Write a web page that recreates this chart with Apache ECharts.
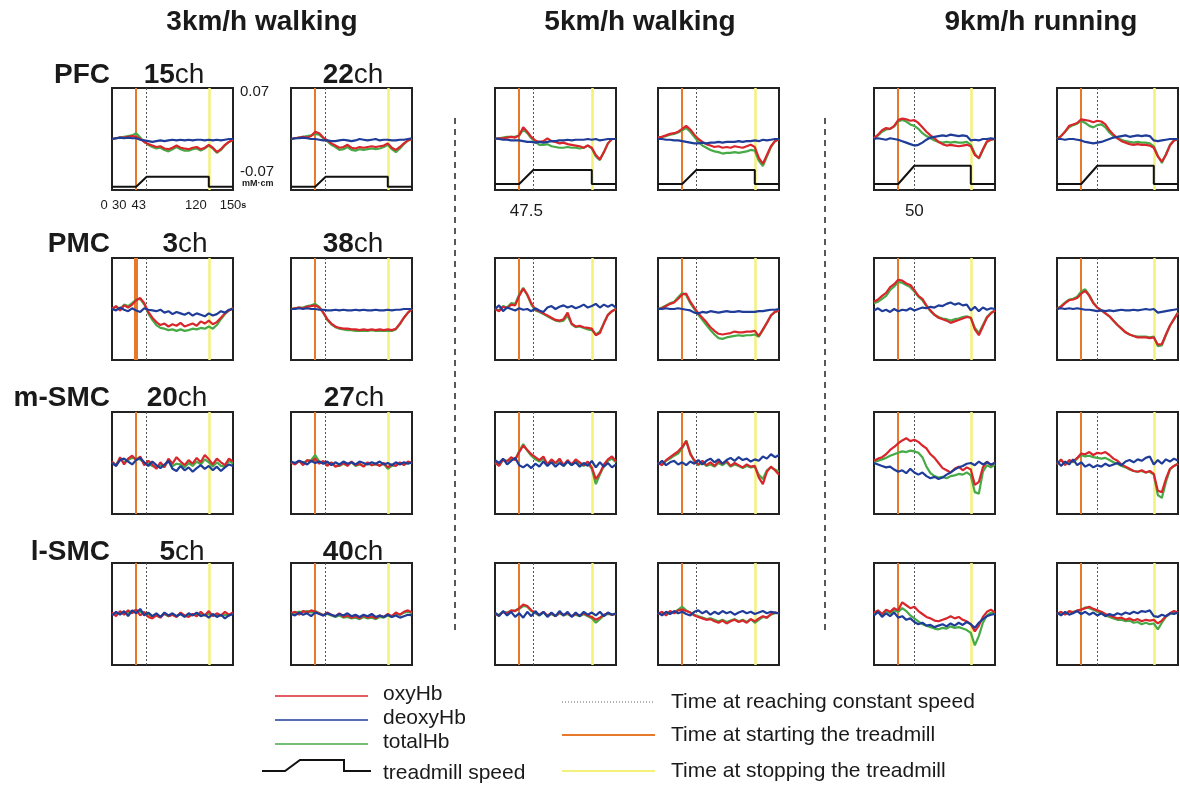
<!DOCTYPE html>
<html><head><meta charset="utf-8">
<script src="https://cdn.jsdelivr.net/npm/echarts@6/dist/echarts.min.js"></script>
<style>html,body{margin:0;padding:0;background:#fff}#c{width:1180px;height:787px}</style>
</head><body><div id="c"></div>
<script>
// ---------------- data ----------------
const timeSec = [0,5,10,15,20,25,30,35,40,45,50,55,60,65,70,75,80,85,90,95,100,105,110,115,120,125,130,135,140,145,150];
const conditions = ['3km/h walking','5km/h walking','9km/h running'];
const regions = ['PFC','PMC','m-SMC','l-SMC'];
const channels = [['15','22'],['3','38'],['20','27'],['5','40']];
const treadmillSpeed = [3,5,9];            // km/h
const startTime = 30;                      // s
const reachTime = [43,47.5,50];            // s
const stopTime = 120;                      // s
const endTime = 150;                       // s
const xTickLabels = [0,30,43,120,150];
const reachTickLabels = [null,[47.5],[50]];
const yTickLabels = [0.07,-0.07];

// PFC
const PFC15_3kmh_oxy   = [0,0.001,0.002,0.002,0.003,0.004,0.003,0,-0.004,-0.007,-0.009,-0.011,-0.010,-0.013,-0.014,-0.012,-0.009,-0.012,-0.013,-0.014,-0.012,-0.011,-0.014,-0.012,-0.008,-0.012,-0.018,-0.014,-0.008,-0.004,-0.001];
const PFC15_3kmh_deoxy = [0,0.001,0.002,0.001,0.002,0.001,0.001,-0.001,-0.002,-0.003,-0.004,-0.003,-0.002,-0.003,-0.002,-0.001,-0.002,-0.001,-0.002,-0.001,-0.002,-0.001,-0.001,-0.002,-0.001,-0.002,-0.001,-0.002,-0.001,0,0];
const PFC15_3kmh_total = [0,0.001,0.002,0.003,0.004,0.005,0.008,0.002,-0.004,-0.008,-0.011,-0.013,-0.012,-0.015,-0.017,-0.014,-0.011,-0.014,-0.016,-0.016,-0.014,-0.013,-0.016,-0.013,-0.009,-0.013,-0.019,-0.015,-0.009,-0.004,-0.001];
const PFC22_3kmh_oxy   = [0,0.001,0.002,0.003,0.002,0.004,0.010,0.008,0.002,-0.002,-0.006,-0.009,-0.012,-0.011,-0.008,-0.012,-0.013,-0.011,-0.012,-0.011,-0.010,-0.011,-0.010,-0.009,-0.006,-0.012,-0.015,-0.011,-0.006,-0.002,0];
const PFC22_3kmh_deoxy = [0,0.001,0.001,0.002,0.001,0,0,-0.001,-0.002,-0.002,-0.003,-0.003,-0.002,-0.001,-0.002,-0.003,-0.002,0,-0.001,-0.002,-0.001,0,-0.002,-0.001,-0.001,-0.002,-0.002,-0.001,-0.001,0,0.001];
const PFC22_3kmh_total = [0,0.001,0.002,0.003,0.004,0.005,0.007,0.006,0.001,-0.003,-0.008,-0.011,-0.015,-0.014,-0.011,-0.015,-0.016,-0.014,-0.015,-0.014,-0.013,-0.014,-0.013,-0.011,-0.008,-0.014,-0.018,-0.013,-0.007,-0.002,0];
const PFC15_5kmh_oxy   = [0,0.001,0.001,0.002,0.003,0.002,0.005,0.016,0.010,0.003,-0.002,-0.004,-0.003,0.001,-0.003,-0.004,-0.006,-0.005,-0.007,-0.008,-0.009,-0.010,-0.012,-0.009,-0.012,-0.022,-0.028,-0.018,-0.006,0,0];
const PFC15_5kmh_deoxy = [0.001,0,-0.001,-0.001,-0.002,-0.002,-0.002,-0.003,-0.004,-0.004,-0.005,-0.004,-0.005,-0.004,-0.003,-0.003,-0.002,-0.002,-0.001,-0.002,-0.001,-0.001,-0.001,0,-0.001,0,-0.002,-0.001,0,0,0];
const PFC15_5kmh_total = [0,0.001,0.002,0.003,0.003,0.003,0.005,0.013,0.008,0.001,-0.004,-0.008,-0.008,-0.007,-0.010,-0.011,-0.012,-0.012,-0.011,-0.012,-0.012,-0.013,-0.012,-0.009,-0.013,-0.024,-0.029,-0.018,-0.006,0,0];
const PFC22_5kmh_oxy   = [0.002,0.003,0.005,0.007,0.008,0.010,0.014,0.018,0.013,0.006,0,-0.004,-0.007,-0.009,-0.011,-0.010,-0.012,-0.011,-0.012,-0.010,-0.011,-0.012,-0.010,-0.008,-0.011,-0.026,-0.034,-0.022,-0.010,-0.003,0];
const PFC22_5kmh_deoxy = [0,0,-0.001,-0.001,-0.002,-0.002,-0.003,-0.004,-0.005,-0.006,-0.006,-0.005,-0.006,-0.005,-0.005,-0.004,-0.005,-0.004,-0.004,-0.004,-0.003,-0.004,-0.003,-0.003,-0.002,-0.003,-0.001,-0.002,-0.001,0,0];
const PFC22_5kmh_total = [0.002,0.003,0.004,0.006,0.007,0.009,0.012,0.015,0.010,0.003,-0.004,-0.009,-0.012,-0.015,-0.017,-0.018,-0.020,-0.019,-0.019,-0.018,-0.019,-0.018,-0.017,-0.015,-0.016,-0.030,-0.037,-0.024,-0.011,-0.003,0];
const PFC15_9kmh_oxy   = [0.001,0.006,0.012,0.015,0.014,0.018,0.026,0.028,0.027,0.025,0.026,0.022,0.016,0.010,0.005,0.001,-0.004,-0.007,-0.009,-0.008,-0.009,-0.010,-0.009,-0.008,-0.010,-0.022,-0.026,-0.014,-0.003,-0.001,0];
const PFC15_9kmh_deoxy = [0,0.001,0,-0.001,0.001,0,-0.001,-0.003,-0.005,-0.007,-0.009,-0.008,-0.005,-0.001,0.002,0.003,0.004,0.005,0.004,0.006,0.005,0.004,0.005,0.004,-0.002,-0.001,-0.002,0,0,0.001,0];
const PFC15_9kmh_total = [0.001,0.005,0.010,0.013,0.014,0.017,0.024,0.026,0.024,0.020,0.018,0.014,0.008,0.004,0.001,-0.002,-0.004,-0.005,-0.004,-0.005,-0.004,-0.005,-0.005,-0.004,-0.008,-0.020,-0.027,-0.015,-0.004,-0.001,0];
const PFC22_9kmh_oxy   = [0,0.004,0.010,0.018,0.020,0.022,0.027,0.026,0.025,0.023,0.025,0.024,0.020,0.012,0.006,0.001,-0.003,-0.005,-0.007,-0.008,-0.007,-0.008,-0.008,-0.009,-0.012,-0.024,-0.031,-0.022,-0.009,-0.002,0];
const PFC22_9kmh_deoxy = [0,0,-0.001,0,0,-0.001,-0.002,-0.004,-0.005,-0.006,-0.005,-0.004,-0.002,0,0.002,0.003,0.004,0.005,0.003,0.004,0.005,0.004,0.005,0.004,-0.002,-0.003,-0.002,-0.001,0,0,0];
const PFC22_9kmh_total = [0,0.004,0.010,0.016,0.019,0.021,0.025,0.022,0.018,0.016,0.019,0.020,0.016,0.009,0.004,0.001,-0.001,-0.003,-0.004,-0.005,-0.004,-0.005,-0.005,-0.006,-0.010,-0.023,-0.033,-0.021,-0.008,-0.002,0];
// PMC
const PMC3_3kmh_oxy    = [0,0.004,-0.002,0.005,0.002,0.006,0.012,0.015,0.008,-0.004,-0.012,-0.018,-0.022,-0.020,-0.024,-0.021,-0.023,-0.019,-0.024,-0.022,-0.020,-0.023,-0.017,-0.020,-0.016,-0.021,-0.018,-0.012,-0.006,-0.002,0.001];
const PMC3_3kmh_deoxy  = [0,-0.002,0.002,-0.001,-0.003,0.001,-0.002,-0.004,0.001,-0.001,-0.002,-0.003,-0.001,-0.005,-0.003,-0.007,-0.004,-0.006,-0.008,-0.005,-0.009,-0.006,-0.008,-0.010,-0.006,-0.009,-0.007,-0.003,-0.005,-0.001,0];
const PMC3_3kmh_total  = [0,0.003,0,0.006,0.004,0.008,0.013,0.014,0.006,-0.006,-0.015,-0.022,-0.026,-0.027,-0.029,-0.028,-0.030,-0.028,-0.030,-0.029,-0.027,-0.028,-0.026,-0.027,-0.024,-0.027,-0.022,-0.014,-0.007,-0.002,0.001];
const PMC38_3kmh_oxy   = [0,0.001,0.002,0.001,0.003,0.004,0.005,0.002,-0.005,-0.014,-0.020,-0.024,-0.026,-0.027,-0.027,-0.028,-0.028,-0.029,-0.028,-0.029,-0.028,-0.029,-0.028,-0.029,-0.028,-0.029,-0.027,-0.020,-0.012,-0.005,0];
const PMC38_3kmh_deoxy = [0,0,0.001,0,0.001,0,0,-0.001,-0.001,-0.002,-0.002,-0.001,-0.002,-0.001,-0.002,-0.002,-0.001,-0.002,-0.001,-0.002,-0.002,-0.001,-0.002,-0.002,-0.001,-0.002,-0.001,-0.001,0,0,0];
const PMC38_3kmh_total = [0,0.001,0.002,0.002,0.004,0.005,0.007,0.003,-0.005,-0.015,-0.021,-0.025,-0.027,-0.028,-0.029,-0.029,-0.030,-0.030,-0.030,-0.030,-0.029,-0.030,-0.030,-0.030,-0.030,-0.030,-0.028,-0.021,-0.012,-0.005,0];
const PMC3_5kmh_oxy    = [0,-0.003,0.003,0.001,0.006,0.005,0.018,0.028,0.020,0.008,-0.001,-0.003,-0.006,-0.009,-0.012,-0.015,-0.016,-0.014,-0.005,-0.020,-0.024,-0.023,-0.025,-0.026,-0.027,-0.036,-0.033,-0.020,-0.008,-0.003,0];
const PMC3_5kmh_deoxy  = [0,0.005,-0.003,0.002,0,-0.002,0.001,-0.001,0,-0.003,0.001,-0.002,-0.004,0.002,0.004,0,0.003,0.005,0.002,0.004,0.001,0.003,0.006,0.002,0.004,0.007,0.002,0.006,0.003,0.006,0.002];
const PMC3_5kmh_total  = [0,-0.002,0.004,0.002,0.008,0.007,0.020,0.029,0.019,0.006,-0.002,-0.004,-0.007,-0.010,-0.013,-0.016,-0.017,-0.016,-0.009,-0.021,-0.025,-0.024,-0.026,-0.028,-0.029,-0.035,-0.031,-0.019,-0.008,-0.003,0];
const PMC38_5kmh_oxy   = [0,0.001,0.004,0.007,0.009,0.014,0.020,0.021,0.010,0.002,-0.006,-0.012,-0.018,-0.025,-0.030,-0.034,-0.035,-0.034,-0.033,-0.031,-0.032,-0.032,-0.031,-0.031,-0.030,-0.037,-0.028,-0.019,-0.009,-0.004,-0.002];
const PMC38_5kmh_deoxy = [0,0,0.001,0,0,0.001,0,-0.001,-0.002,-0.005,-0.006,-0.004,-0.005,-0.003,-0.004,-0.005,-0.004,-0.003,-0.004,-0.004,-0.003,-0.004,-0.004,-0.004,-0.004,-0.003,-0.003,-0.002,-0.001,-0.001,0];
const PMC38_5kmh_total = [0,0.002,0.005,0.008,0.010,0.016,0.022,0.019,0.008,0,-0.008,-0.015,-0.022,-0.029,-0.035,-0.040,-0.041,-0.039,-0.038,-0.037,-0.036,-0.037,-0.036,-0.036,-0.035,-0.038,-0.029,-0.019,-0.009,-0.004,-0.002];
const PMC3_9kmh_oxy    = [0.010,0.013,0.018,0.022,0.030,0.034,0.040,0.039,0.035,0.033,0.026,0.018,0.014,0.005,-0.002,-0.008,-0.012,-0.014,-0.016,-0.019,-0.017,-0.015,-0.013,-0.011,-0.012,-0.028,-0.036,-0.024,-0.012,-0.006,-0.002];
const PMC3_9kmh_deoxy  = [-0.002,0.001,-0.003,-0.001,-0.004,0,-0.003,-0.001,-0.002,0.001,-0.002,0,0.002,0.001,0.003,0.002,0.005,0.004,0.007,0.009,0.006,0.008,0.005,0.006,-0.002,0.003,-0.003,0.002,-0.001,0.001,0];
const PMC3_9kmh_total  = [0.008,0.010,0.014,0.018,0.026,0.031,0.037,0.036,0.033,0.030,0.024,0.017,0.012,0.004,-0.003,-0.008,-0.011,-0.013,-0.014,-0.016,-0.014,-0.013,-0.011,-0.010,-0.012,-0.026,-0.033,-0.022,-0.011,-0.005,-0.002];
const PMC38_9kmh_oxy   = [0,0.003,0.008,0.012,0.013,0.015,0.021,0.025,0.018,0.008,0.002,-0.002,-0.006,-0.010,-0.016,-0.022,-0.027,-0.032,-0.035,-0.037,-0.039,-0.039,-0.039,-0.040,-0.039,-0.049,-0.048,-0.035,-0.023,-0.014,-0.005];
const PMC38_9kmh_deoxy = [0,0.001,0,0.001,0,0.001,0,-0.001,-0.001,-0.002,-0.003,-0.002,-0.003,-0.002,-0.003,-0.002,-0.001,-0.002,-0.002,-0.001,-0.002,-0.001,0,-0.001,0,-0.005,-0.004,-0.003,-0.002,-0.001,0];
const PMC38_9kmh_total = [0,0.004,0.009,0.013,0.014,0.017,0.024,0.027,0.019,0.009,0.002,-0.002,-0.006,-0.010,-0.016,-0.022,-0.027,-0.032,-0.035,-0.037,-0.038,-0.038,-0.038,-0.039,-0.038,-0.051,-0.050,-0.036,-0.023,-0.014,-0.005];
// m-SMC
const mSMC20_3kmh_oxy   = [0.002,-0.004,0.008,-0.002,0.006,0.010,0.004,0.009,-0.003,0.003,-0.002,-0.008,0.001,-0.006,0.006,-0.001,0.008,0.002,-0.003,0.004,-0.001,0.007,0.001,0.011,0.005,-0.002,0.006,0.001,-0.003,0.006,0.002];
const mSMC20_3kmh_deoxy = [0,-0.004,0.004,0.006,0.002,-0.002,0.004,0.007,0.001,-0.004,0.002,-0.003,-0.007,-0.002,0.003,-0.008,-0.011,-0.004,-0.010,-0.006,-0.012,-0.007,-0.003,-0.008,-0.004,-0.010,-0.005,-0.011,-0.006,-0.002,-0.004];
const mSMC20_3kmh_total = [0.001,-0.002,0.005,0.001,0.004,0.007,0.006,0.005,0,-0.001,-0.004,-0.006,-0.003,-0.005,0.003,-0.004,-0.001,-0.002,-0.006,0,-0.004,0.002,-0.002,0.005,0.001,-0.005,0.001,-0.004,-0.005,0.003,-0.001];
const mSMC27_3kmh_oxy   = [0.001,-0.002,0.003,-0.003,0.004,0.002,0.006,-0.001,0.003,-0.004,0.001,-0.005,-0.003,0,-0.004,0.002,-0.003,-0.001,-0.005,0.001,-0.003,-0.001,-0.004,0,-0.006,-0.002,-0.004,0.001,-0.003,0.002,0];
const mSMC27_3kmh_deoxy = [0.002,0,0.003,0.001,-0.002,0.003,0,0.002,-0.001,0.002,-0.003,0.001,-0.002,0.002,-0.001,0.001,-0.002,0.002,0,-0.002,0.001,-0.001,0.002,-0.002,0,-0.003,0.001,-0.002,0.001,-0.001,0.001];
const mSMC27_3kmh_total = [0.001,-0.001,0.002,0,0.003,0.004,0.011,0.002,0.001,-0.002,0,-0.004,-0.004,-0.001,-0.003,0.001,-0.004,-0.002,-0.004,0,-0.003,-0.002,-0.003,-0.001,-0.008,-0.004,-0.003,0,-0.002,0.001,0];
const mSMC20_5kmh_oxy   = [0.001,-0.004,0.005,0.002,0.008,0.004,0.015,0.024,0.018,0.012,0.008,0.004,0.009,-0.002,0.005,0,0.006,-0.003,0.004,-0.002,0.005,0.001,-0.003,0.002,-0.006,-0.022,-0.014,-0.002,0.005,0.009,0.002];
const mSMC20_5kmh_deoxy = [0.004,0,0.006,-0.002,0.003,0.007,-0.003,-0.006,-0.002,-0.007,-0.001,-0.005,0.002,-0.004,0.001,-0.005,0,-0.004,0.002,-0.003,0.001,-0.005,0,-0.004,0.003,-0.006,0.001,-0.005,0,-0.006,-0.002];
const mSMC20_5kmh_total = [0,-0.003,0.004,0.003,0.006,0.005,0.016,0.026,0.017,0.010,0.005,0.002,0.006,-0.003,0.003,-0.001,0.004,-0.004,0.002,-0.003,0.003,-0.001,-0.004,0,-0.008,-0.029,-0.016,-0.004,0.003,0.006,0.001];
const mSMC27_5kmh_oxy   = [0,-0.003,0.004,0.008,0.012,0.016,0.022,0.030,0.012,0.004,-0.002,0.003,-0.003,0.001,-0.004,0.002,-0.001,0.003,-0.004,0,-0.003,-0.006,-0.002,-0.005,-0.004,-0.020,-0.029,-0.012,-0.005,-0.010,-0.016];
const mSMC27_5kmh_deoxy = [-0.002,0.003,-0.003,0.001,0.003,-0.002,0.001,-0.003,0.002,-0.001,0.004,-0.002,0.003,0.006,0.001,0.005,-0.001,0.004,0.007,0.003,0.008,0.004,0.006,0.002,0.005,0.003,0.009,0.006,0.012,0.008,0.011];
const mSMC27_5kmh_total = [0,-0.002,0.003,0.006,0.010,0.013,0.020,0.031,0.014,0.002,-0.003,0.001,-0.004,-0.002,-0.005,0,-0.003,0.001,-0.005,-0.002,-0.004,-0.007,-0.004,-0.006,-0.005,-0.016,-0.022,-0.010,-0.006,-0.009,-0.012];
const mSMC20_9kmh_oxy   = [0.003,0.006,0.008,0.012,0.018,0.022,0.027,0.031,0.034,0.030,0.032,0.029,0.024,0.020,0.012,0.007,0,-0.007,-0.010,-0.013,-0.008,-0.005,-0.010,-0.006,-0.009,-0.030,-0.026,-0.006,0.002,-0.003,0.001];
const mSMC20_9kmh_deoxy = [0,-0.002,-0.004,-0.006,-0.005,-0.009,-0.012,-0.010,-0.014,-0.008,-0.013,-0.016,-0.013,-0.018,-0.021,-0.019,-0.022,-0.020,-0.016,-0.013,-0.009,-0.006,-0.004,-0.001,0,-0.003,0.002,-0.002,0.001,-0.002,0];
const mSMC20_9kmh_total = [0.002,0.003,0.005,0.007,0.010,0.012,0.014,0.016,0.015,0.017,0.016,0.014,0.008,-0.005,-0.014,-0.018,-0.020,-0.019,-0.021,-0.018,-0.017,-0.015,-0.016,-0.013,-0.017,-0.040,-0.042,-0.012,-0.003,-0.006,-0.002];
const mSMC27_9kmh_oxy   = [-0.002,0.005,-0.003,0.004,0.002,0.007,0.013,0.012,0.015,0.011,0.014,0.013,0.015,0.011,0.006,0.003,-0.002,-0.005,-0.008,-0.011,-0.012,-0.010,-0.013,-0.011,-0.015,-0.038,-0.040,-0.022,-0.008,-0.004,-0.001];
const mSMC27_9kmh_deoxy = [0.003,-0.004,0.002,-0.002,0.005,-0.003,0.001,-0.005,-0.002,-0.006,-0.003,-0.005,-0.001,-0.004,-0.002,0,-0.003,0.002,0.004,0.001,0.005,0.003,0.007,0.009,-0.002,0.004,-0.001,0.005,0.002,0.006,0.003];
const mSMC27_9kmh_total = [-0.001,0.004,-0.002,0.003,0.001,0.006,0.011,0.009,0.010,0.008,0.007,0.006,0.007,0.004,0.001,-0.001,-0.004,-0.006,-0.009,-0.011,-0.012,-0.011,-0.013,-0.012,-0.016,-0.044,-0.048,-0.026,-0.009,-0.004,-0.001];
// l-SMC
const lSMC5_3kmh_oxy    = [0.002,-0.003,0.004,-0.001,0.005,0.001,0.006,-0.002,0.003,-0.004,-0.006,-0.002,-0.005,0.001,-0.003,-0.001,-0.004,0.002,-0.002,-0.004,0,-0.003,0.003,-0.002,0.004,-0.003,0.001,-0.002,0.003,-0.001,0.002];
const lSMC5_3kmh_deoxy  = [-0.002,0.003,-0.001,0.004,-0.003,0.005,0.001,0.007,-0.002,0.002,-0.003,0.001,-0.004,0.002,-0.002,0.001,-0.003,0,-0.004,0.001,-0.002,0.002,-0.003,-0.001,-0.005,0,-0.004,-0.001,-0.006,-0.002,0];
const lSMC5_3kmh_total  = [0,0.001,0.002,0.002,0.001,0.004,0.005,0.003,0.001,0,-0.004,-0.001,-0.004,0,-0.003,-0.001,-0.003,0.001,-0.003,-0.002,-0.001,-0.001,0,-0.002,0,-0.002,-0.001,-0.002,-0.001,-0.002,0.001];
const lSMC40_3kmh_oxy   = [0.001,0.003,-0.001,0.004,0.002,0.005,0.003,0.001,-0.002,0.002,-0.001,-0.003,0.001,-0.004,-0.002,-0.005,-0.003,-0.006,-0.002,-0.005,-0.003,-0.006,-0.002,-0.004,0,-0.003,0.002,-0.001,0.003,0.005,0.002];
const lSMC40_3kmh_deoxy = [0,-0.002,0.002,-0.001,0.001,-0.003,0.002,0,-0.002,0.001,-0.001,-0.003,0,-0.002,0.001,-0.003,-0.001,-0.004,-0.001,-0.003,0,-0.004,-0.002,-0.004,-0.001,-0.004,-0.002,-0.005,-0.003,-0.001,-0.002];
const lSMC40_3kmh_total = [0.001,0.002,0.003,0.003,0.004,0.002,0.004,0.001,-0.001,0,-0.002,-0.004,-0.002,-0.005,-0.004,-0.006,-0.005,-0.007,-0.004,-0.006,-0.005,-0.007,-0.004,-0.005,-0.002,-0.004,0,-0.001,0.002,0.003,0.001];
const lSMC5_5kmh_oxy    = [0,-0.002,0.003,0.001,0.005,0.004,0.008,0.013,0.011,0.005,0.002,-0.001,0.003,-0.002,0.001,-0.003,0.002,-0.001,0.001,-0.003,0,-0.002,0.001,-0.002,-0.004,-0.008,-0.005,-0.001,0.001,-0.001,0];
const lSMC5_5kmh_deoxy  = [0.002,-0.003,0.004,-0.002,0.003,-0.004,0.001,-0.005,0.003,-0.003,0.004,-0.002,0.003,-0.004,0.002,-0.003,0.004,-0.002,0.003,-0.004,0.002,-0.003,0.003,-0.001,0.002,-0.002,0.003,-0.003,0.002,-0.001,0.001];
const lSMC5_5kmh_total  = [0,-0.001,0.003,0.002,0.004,0.005,0.007,0.011,0.010,0.004,0.001,-0.002,0.002,-0.003,0,-0.003,0.001,-0.002,0,-0.003,-0.001,-0.003,0,-0.003,-0.006,-0.012,-0.007,-0.002,0,-0.001,0];
const lSMC40_5kmh_oxy   = [0,0.003,-0.002,0.004,0.001,0.005,0.006,0.004,0.002,-0.002,-0.004,-0.006,-0.008,-0.007,-0.010,-0.012,-0.009,-0.013,-0.010,-0.008,-0.011,-0.009,-0.012,-0.007,-0.010,-0.006,-0.003,-0.005,0,0.002,0.001];
const lSMC40_5kmh_deoxy = [0.002,-0.002,0.003,0,0.004,0.001,0.003,0,-0.002,0.003,0.005,0.001,0.004,-0.001,0.003,0,0.004,0.001,0.003,-0.001,0.002,0.004,0.001,0.003,0,0.002,0.004,0.001,0.003,0.002,0.001];
const lSMC40_5kmh_total = [0,0.002,0,0.003,0.002,0.006,0.010,0.005,0.002,-0.001,-0.003,-0.005,-0.007,-0.006,-0.008,-0.010,-0.008,-0.011,-0.009,-0.007,-0.010,-0.008,-0.011,-0.007,-0.012,-0.008,-0.004,-0.005,-0.001,0.001,0.001];
const lSMC5_9kmh_oxy    = [0.002,0.005,0,0.006,0.003,0.008,0.005,0.016,0.012,0.008,0.010,0.004,0,-0.004,-0.006,-0.009,-0.010,-0.008,-0.006,-0.003,-0.006,-0.004,-0.008,-0.010,-0.014,-0.024,-0.016,-0.004,0.003,0.006,0.002];
const lSMC5_9kmh_deoxy  = [-0.002,0.003,-0.004,0.001,-0.003,0.002,-0.005,-0.003,-0.008,-0.006,-0.011,-0.014,-0.012,-0.016,-0.015,-0.018,-0.016,-0.014,-0.017,-0.013,-0.016,-0.012,-0.015,-0.011,-0.014,-0.019,-0.012,-0.007,-0.003,-0.001,0];
const lSMC5_9kmh_total  = [0,0.003,-0.002,0.004,0.001,0.005,0.003,0.008,0.004,-0.002,-0.006,-0.010,-0.014,-0.016,-0.018,-0.020,-0.021,-0.019,-0.020,-0.017,-0.019,-0.018,-0.020,-0.022,-0.026,-0.043,-0.030,-0.012,-0.002,0.002,0];
const lSMC40_9kmh_oxy   = [0,0.003,-0.001,0.004,0.002,0.005,0.006,0.008,0.010,0.007,0.005,0.003,0,-0.002,-0.004,-0.006,-0.005,-0.008,-0.006,-0.009,-0.007,-0.010,-0.008,-0.009,-0.008,-0.013,-0.009,-0.003,0.001,0.004,0.002];
const lSMC40_9kmh_deoxy = [0.002,-0.002,0.003,-0.001,0.001,0.004,0,0.003,-0.001,0.002,-0.002,0.001,-0.003,0,-0.002,0.001,-0.001,0.002,0,0.003,0.001,0.004,0.003,0.005,-0.003,-0.004,-0.001,-0.003,0.001,0,0.002];
const lSMC40_9kmh_total = [0,0.002,0,0.003,0.003,0.004,0.006,0.009,0.008,0.006,0.003,0.001,-0.002,-0.004,-0.006,-0.008,-0.008,-0.010,-0.009,-0.012,-0.011,-0.014,-0.012,-0.014,-0.013,-0.021,-0.012,-0.004,0,0.003,0.001];

// panels[row][col] = [oxyHb, deoxyHb, totalHb]
const panels = [
  [[PFC15_3kmh_oxy,PFC15_3kmh_deoxy,PFC15_3kmh_total],[PFC22_3kmh_oxy,PFC22_3kmh_deoxy,PFC22_3kmh_total],
   [PFC15_5kmh_oxy,PFC15_5kmh_deoxy,PFC15_5kmh_total],[PFC22_5kmh_oxy,PFC22_5kmh_deoxy,PFC22_5kmh_total],
   [PFC15_9kmh_oxy,PFC15_9kmh_deoxy,PFC15_9kmh_total],[PFC22_9kmh_oxy,PFC22_9kmh_deoxy,PFC22_9kmh_total]],
  [[PMC3_3kmh_oxy,PMC3_3kmh_deoxy,PMC3_3kmh_total],[PMC38_3kmh_oxy,PMC38_3kmh_deoxy,PMC38_3kmh_total],
   [PMC3_5kmh_oxy,PMC3_5kmh_deoxy,PMC3_5kmh_total],[PMC38_5kmh_oxy,PMC38_5kmh_deoxy,PMC38_5kmh_total],
   [PMC3_9kmh_oxy,PMC3_9kmh_deoxy,PMC3_9kmh_total],[PMC38_9kmh_oxy,PMC38_9kmh_deoxy,PMC38_9kmh_total]],
  [[mSMC20_3kmh_oxy,mSMC20_3kmh_deoxy,mSMC20_3kmh_total],[mSMC27_3kmh_oxy,mSMC27_3kmh_deoxy,mSMC27_3kmh_total],
   [mSMC20_5kmh_oxy,mSMC20_5kmh_deoxy,mSMC20_5kmh_total],[mSMC27_5kmh_oxy,mSMC27_5kmh_deoxy,mSMC27_5kmh_total],
   [mSMC20_9kmh_oxy,mSMC20_9kmh_deoxy,mSMC20_9kmh_total],[mSMC27_9kmh_oxy,mSMC27_9kmh_deoxy,mSMC27_9kmh_total]],
  [[lSMC5_3kmh_oxy,lSMC5_3kmh_deoxy,lSMC5_3kmh_total],[lSMC40_3kmh_oxy,lSMC40_3kmh_deoxy,lSMC40_3kmh_total],
   [lSMC5_5kmh_oxy,lSMC5_5kmh_deoxy,lSMC5_5kmh_total],[lSMC40_5kmh_oxy,lSMC40_5kmh_deoxy,lSMC40_5kmh_total],
   [lSMC5_9kmh_oxy,lSMC5_9kmh_deoxy,lSMC5_9kmh_total],[lSMC40_9kmh_oxy,lSMC40_9kmh_deoxy,lSMC40_9kmh_total]]
];

// ---------------- layout / style ----------------
const colLeft = [112,291,495,658,874,1057];
const rowTop = [88,258,412,563];
const panelW = 121, panelH = 102;
const speedAxisRange = [[-1,29.6],[-2.14,34.3],[-2.95,47.3]];
// horizontal nudges (px, leftwards) of the tick labels, as placed in the original figure
const xLabelNudge = [8,17,8,13,0];
const reachLabelNudge = [0,7,0];
const C = {oxy:'#d8262c', deoxy:'#1e3c98', total:'#46aa46', start:'#e8782a', stop:'#f3f07c', reach:'#555', text:'#1a1a1a', border:'#222'};
const FONT = '"Liberation Sans", Arial, sans-serif';

const grids=[], xAxes=[], yAxes=[], series=[];
let gi = 0;
for (let r=0;r<4;r++) for (let c=0;c<6;c++) {
  const k = Math.floor(c/2);
  grids.push({left:colLeft[c], top:rowTop[r], width:panelW, height:panelH, show:true,
    borderColor:C.border, borderWidth:2, backgroundColor:'rgba(0,0,0,0)', containLabel:false, outerBoundsMode:'none'});
  const xa = {gridIndex:gi, type:'value', min:0, max:endTime, show:false,
    axisLine:{show:false}, axisTick:{show:false}, splitLine:{show:false}, axisLabel:{show:false}};
  if (r===0 && c===0) {
    const rich = {u:{fontSize:9, fontWeight:'bold', color:C.text, fontFamily:FONT}};
    xTickLabels.forEach((v,i)=>{ rich['l'+i] = {fontSize:13, color:C.text, fontFamily:FONT, padding:[0,2*xLabelNudge[i],0,0]}; });
    xa.show = true;
    xa.axisLabel = {show:true, customValues:xTickLabels, fontSize:13, color:C.text, fontFamily:FONT, margin:9,
      formatter: v => { const i = xTickLabels.indexOf(v); return '{l'+i+'|'+v+'}' + (v===endTime ? '{u|s}' : ''); }, rich};
  } else if (r===0 && c%2===0 && reachTickLabels[k]) {
    xa.show = true;
    xa.axisLabel = {show:true, customValues:reachTickLabels[k], color:C.text, fontFamily:FONT, margin:13,
      formatter: v => '{a|'+v+'}', rich:{a:{fontSize:17, color:C.text, fontFamily:FONT, padding:[0,2*reachLabelNudge[k],0,0]}}};
  }
  xAxes.push(xa);
  const ya = {gridIndex:gi, type:'value', min:-0.07, max:0.07, show:false,
    axisLine:{show:false}, axisTick:{show:false}, splitLine:{show:false}, axisLabel:{show:false}};
  if (r===0 && c===0) {
    ya.show = true; ya.position = 'right';
    ya.axisLabel = {show:true, customValues:yTickLabels, margin:7, color:C.text, fontFamily:FONT, align:'left',
      formatter: v => v>0 ? '{top|'+v.toFixed(2)+'}' : '{neg|'+v.toFixed(2)+'}\n{unit|mM·cm}',
      rich:{top:{fontSize:15, color:C.text, fontFamily:FONT, padding:[8,0,0,0]},
            neg:{fontSize:15, color:C.text, fontFamily:FONT},
            unit:{fontSize:9, fontWeight:'bold', color:C.text, fontFamily:FONT, padding:[0,0,28,2]}}};
  }
  yAxes.push(ya);
  const toPts = arr => timeSec.map((t,j)=>[t, arr[j]]);
  const [oxy, deoxy, total] = panels[r][c];
  const base = {type:'line', xAxisIndex:gi, yAxisIndex:gi, showSymbol:false, symbol:'none', animation:false, silent:true};
  const startW = (r===1 && c===0) ? 4 : 2;
  series.push(Object.assign({}, base, {name:'totalHb', data:toPts(total), lineStyle:{color:C.total, width:2.2}, z:2,
    markLine:{silent:true, symbol:['none','none'], label:{show:false}, animation:false, z:1,
      data:[{xAxis:startTime, lineStyle:{color:C.start, width:startW, type:'solid'}},
            {xAxis:reachTime[k], lineStyle:{color:C.reach, width:1, type:[2,2]}},
            {xAxis:stopTime, lineStyle:{color:C.stop, width:2.5, type:'solid'}}]}}));
  series.push(Object.assign({}, base, {name:'oxyHb', data:toPts(oxy), lineStyle:{color:C.oxy, width:2.2}, z:3}));
  series.push(Object.assign({}, base, {name:'deoxyHb', data:toPts(deoxy), lineStyle:{color:C.deoxy, width:2.2}, z:4}));
  gi++;
}
// treadmill speed traces (top row, own y axes)
for (let c=0;c<6;c++) {
  const k = Math.floor(c/2);
  const yi = yAxes.length;
  yAxes.push({gridIndex:c, type:'value', min:speedAxisRange[k][0], max:speedAxisRange[k][1], show:false,
    axisLine:{show:false}, axisTick:{show:false}, splitLine:{show:false}, axisLabel:{show:false}});
  const v = treadmillSpeed[k];
  const tt = [0, startTime, reachTime[k], stopTime, stopTime, endTime];
  const sp = [0, 0, v, v, 0, 0];
  series.push({type:'line', name:'treadmill speed', xAxisIndex:c, yAxisIndex:yi, data:tt.map((t,j)=>[t,sp[j]]),
    showSymbol:false, symbol:'none', animation:false, silent:true, lineStyle:{color:'#111', width:2}, z:5});
}

// ---------------- texts & legend ----------------
const g = [];
const titleX = [262,640,1041];
conditions.forEach((t,i)=>g.push({type:'text', x:titleX[i], y:22, style:{text:t, font:'bold 28px '+FONT, fill:C.text, align:'center', verticalAlign:'middle'}}));
const rowLabelY = [75,244,398,552];
regions.forEach((t,i)=>g.push({type:'text', x:110, y:rowLabelY[i], style:{text:t, font:'bold 28px '+FONT, fill:C.text, align:'right', verticalAlign:'middle'}}));
const chX = [[174,353],[185,353],[177,354],[182,353]];
channels.forEach((pair,r)=>pair.forEach((ch,j)=>g.push({type:'text', x:chX[r][j], y:rowLabelY[r], style:{
  text:'{b|'+ch+'}{n|ch}', align:'center', verticalAlign:'middle',
  rich:{b:{font:'bold 28px '+FONT, fill:C.text}, n:{font:'28px '+FONT, fill:C.text}}}})));
// dashed separators
[455,825].forEach(x=>g.push({type:'line', shape:{x1:x,y1:118,x2:x,y2:632}, style:{stroke:'#222', lineWidth:1.5, lineDash:[6,5]}}));
// legend left
const legL = [{name:'oxyHb', color:C.oxy, y:696},{name:'deoxyHb', color:C.deoxy, y:720},{name:'totalHb', color:C.total, y:744}];
legL.forEach(o=>{
  g.push({type:'line', shape:{x1:275,y1:o.y,x2:368,y2:o.y}, style:{stroke:o.color, lineWidth:1.5}});
  g.push({type:'text', x:383, y:o.y-2, style:{text:o.name, font:'21px '+FONT, fill:C.text, align:'left', verticalAlign:'middle'}});
});
g.push({type:'polyline', shape:{points:[[262,771],[285,771],[300,760],[344,760],[344,771],[371,771]]}, style:{stroke:'#111', lineWidth:2, fill:null}});
g.push({type:'text', x:383, y:773, style:{text:'treadmill speed', font:'21px '+FONT, fill:C.text, align:'left', verticalAlign:'middle'}});
// legend right
const legR = [{name:'Time at reaching constant speed', color:'#666', y:702, dash:[1,2], w:1},
              {name:'Time at starting the treadmill', color:C.start, y:735, dash:null, w:2},
              {name:'Time at stopping the treadmill', color:C.stop, y:771, dash:null, w:2}];
legR.forEach(o=>{
  g.push({type:'line', shape:{x1:562,y1:o.y,x2:655,y2:o.y}, style:{stroke:o.color, lineWidth:o.w, lineDash:o.dash}});
  g.push({type:'text', x:671, y:o.y, style:{text:o.name, font:'21px '+FONT, fill:C.text, align:'left', verticalAlign:'middle'}});
});

const chart = echarts.init(document.getElementById('c'));
chart.setOption({
  backgroundColor:'#fff', animation:false,
  textStyle:{fontFamily:FONT},
  grid:grids, xAxis:xAxes, yAxis:yAxes, series:series, graphic:g
});
</script></body></html>
